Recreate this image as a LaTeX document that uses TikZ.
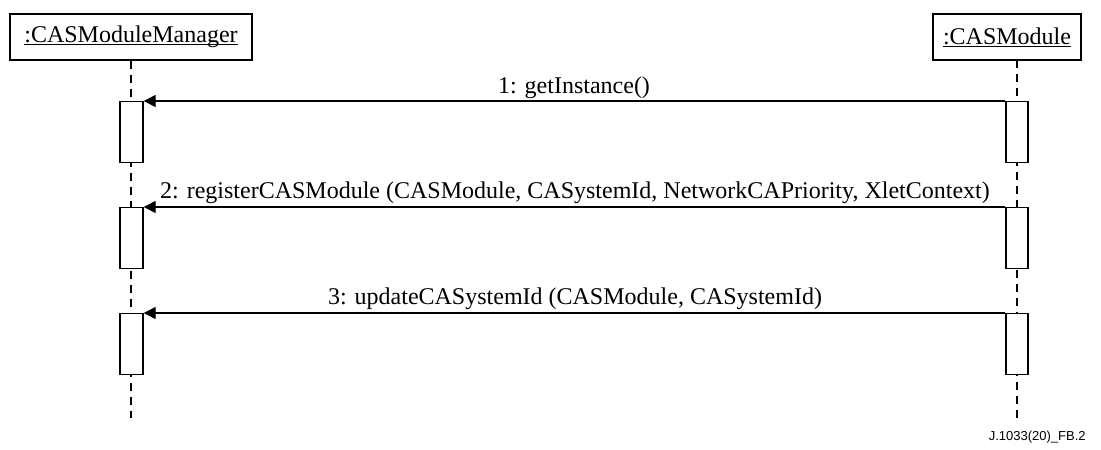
\documentclass[tikz,border=0pt]{standalone}
\usepackage{fontspec}
\setmainfont{Liberation Serif}
\newfontfamily\labelsans{Liberation Sans}
\usetikzlibrary{arrows.meta}
% object names underlined close to the baseline
\newcommand\objname[1]{\setbox0\hbox{#1}\rlap{\rule[-1.3pt]{\wd0}{0.5pt}}\box0}
\tikzset{
  obj/.style={draw, line width=0.7pt, minimum height=23pt, inner sep=0pt, font=\fontsize{12}{14}\selectfont},
  life/.style={line width=0.7pt, dash pattern=on 4pt off 3pt},
  act/.style={draw, fill=white, line width=0.7pt, minimum height=30.5pt, inner sep=0pt, anchor=north},
  msg/.style={line width=0.7pt, -{Triangle[length=6pt,width=6pt]}},
  msglabel/.style={font=\fontsize{12}{14}\selectfont, inner sep=0pt, anchor=base}
}
\begin{document}
\begin{tikzpicture}[x=0.5pt, y=-0.5pt]
\useasboundingbox (0,0) rectangle (1101,449);
% objects
\node[obj, minimum width=121pt] (mgr) at (131,37) {\objname{:CASModuleManager}};
\node[obj, minimum width=74pt] (mod) at (1007,37) {\objname{:CASModule}};
% lifelines
\coordinate (mgrEnd) at (131,418);
\coordinate (modTop) at (1017,60);
\coordinate (modEnd) at (1017,418);
\draw[life] (mgr.south -| mgrEnd) -- (mgrEnd);
\draw[life] (modTop) -- (modEnd);
% activations
\node[act, minimum width=11.5pt] (a1) at (131.5,101) {};
\node[act, minimum width=11pt] (b1) at (1017,101) {};
\node[act, minimum width=11.5pt] (a2) at (131.5,207) {};
\node[act, minimum width=11pt] (b2) at (1017,207) {};
\node[act, minimum width=11.5pt] (a3) at (131.5,313) {};
\node[act, minimum width=11pt] (b3) at (1017,313) {};
% messages
\draw[msg] (b1.north west) -- (a1.north east);
\draw[msg] (b2.north west) -- (a2.north east);
\draw[msg] (b3.north west) -- (a3.north east);
\node[msglabel] (l1) at (574,93) {1: getInstance()};
\node[msglabel] (l2) at (575,198) {2: registerCASModule (CASModule, CASystemId, NetworkCAPriority, XletContext)};
\node[msglabel] (l3) at (575,304) {3: updateCASystemId (CASModule, CASystemId)};
% figure tag
\node[anchor=base east, inner sep=0pt, font=\labelsans\fontsize{6.5}{8}\selectfont] (tag) at (1086,440) {J.1033(20)\_FB.2};
\end{tikzpicture}
\end{document}
